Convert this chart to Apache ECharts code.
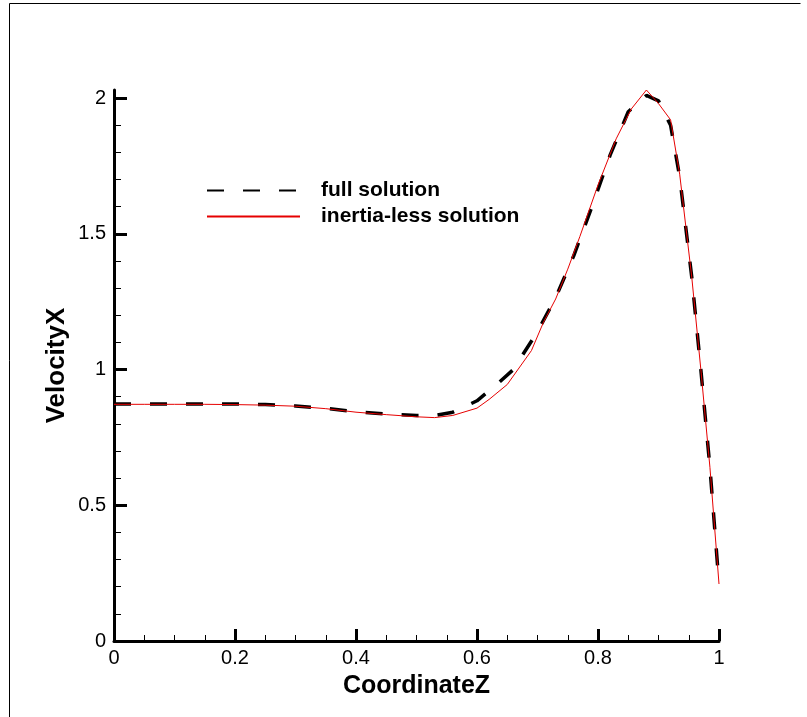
<!DOCTYPE html>
<html>
<head>
<meta charset="utf-8">
<script src="https://cdn.jsdelivr.net/npm/echarts@6/dist/echarts.min.js"></script>
<style>
  html, body { margin: 0; padding: 0; background: #fff; }
  #chart { width: 807px; height: 717px; }
</style>
</head>
<body>
<div id="chart"></div>
<script>
// CoordinateZ sample positions and VelocityX values for both solutions
const zFull = [0, 0.05, 0.1, 0.15, 0.2, 0.25, 0.3, 0.35, 0.4, 0.45, 0.5, 0.53, 0.56, 0.6, 0.63, 0.66, 0.7, 0.73, 0.76, 0.79, 0.82, 0.85, 0.88, 0.9, 0.92, 0.935, 0.955, 0.97, 0.985, 1.0];
const vFull = [0.873, 0.873, 0.873, 0.873, 0.873, 0.871, 0.866, 0.857, 0.845, 0.836, 0.831, 0.831, 0.843, 0.885, 0.94, 1.0, 1.14, 1.265, 1.42, 1.6, 1.79, 1.95, 2.01, 1.99, 1.9, 1.71, 1.34, 1.0, 0.64, 0.21];

const zInertiaLess = [0, 0.05, 0.1, 0.15, 0.2, 0.25, 0.3, 0.35, 0.4, 0.45, 0.5, 0.53, 0.56, 0.6, 0.62, 0.65, 0.69, 0.71, 0.73, 0.75, 0.77, 0.8, 0.83, 0.855, 0.88, 0.9, 0.92, 0.935, 0.955, 0.97, 0.985, 1.0];
const vInertiaLess = [0.872, 0.872, 0.872, 0.872, 0.871, 0.869, 0.865, 0.856, 0.843, 0.834, 0.826, 0.823, 0.831, 0.858, 0.89, 0.945, 1.07, 1.175, 1.26, 1.37, 1.49, 1.68, 1.85, 1.96, 2.03, 1.98, 1.92, 1.72, 1.34, 1.0, 0.64, 0.21];

const xTicks = [0, 0.2, 0.4, 0.6, 0.8, 1];
const yTicks = [0, 0.5, 1, 1.5, 2];

const seriesNames = ['full solution', 'inertia-less solution'];

const pair = (xs, ys) => xs.map((x, i) => [x, ys[i]]);

const FONT = 'Liberation Sans, Arial, sans-serif';

const chart = echarts.init(document.getElementById('chart'), null, { renderer: 'canvas' });

chart.setOption({
  backgroundColor: '#ffffff',
  animation: false,
  grid: { left: 114, right: 88, top: 90, bottom: 76, containLabel: false },
  xAxis: {
    type: 'value',
    min: 0,
    max: 1,
    interval: 0.2,
    name: 'CoordinateZ',
    nameLocation: 'middle',
    nameGap: 33,
    nameMoveOverlap: false,
    nameTextStyle: { fontFamily: FONT, fontWeight: 'bold', fontSize: 25, color: '#000' },
    axisLine: { show: true, lineStyle: { color: '#000', width: 3 } },
    axisTick: { show: true, inside: true, length: 12, lineStyle: { color: '#000', width: 3 }, customValues: xTicks },
    minorTick: { show: true, splitNumber: 4, length: 6, lineStyle: { color: '#000', width: 1 } },
    axisLabel: { customValues: xTicks, fontFamily: FONT, fontSize: 20, color: '#000', margin: 7,
      formatter: v => String(+v.toFixed(2)) },
    splitLine: { show: false }
  },
  yAxis: {
    type: 'value',
    min: 0,
    max: 2.03,
    interval: 0.5,
    name: 'VelocityX',
    nameLocation: 'middle',
    nameGap: 44,
    nameMoveOverlap: false,
    nameRotate: 90,
    nameTextStyle: { fontFamily: FONT, fontWeight: 'bold', fontSize: 26, color: '#000' },
    axisLine: { show: true, lineStyle: { color: '#000', width: 3 } },
    axisTick: { show: true, inside: true, length: 13, lineStyle: { color: '#000', width: 3 }, customValues: yTicks },
    minorTick: { show: true, splitNumber: 5, length: 7, lineStyle: { color: '#000', width: 1 } },
    axisLabel: { customValues: yTicks, fontFamily: FONT, fontSize: 20, color: '#000', margin: 8,
      formatter: v => String(+v.toFixed(2)) },
    splitLine: { show: false }
  },
  legend: {
    show: true,
    orient: 'vertical',
    left: 201,
    top: 175,
    itemWidth: 93,
    itemHeight: 14,
    itemGap: 5,
    itemStyle: { opacity: 0 },
    textStyle: { fontFamily: FONT, fontWeight: 'bold', fontSize: 21, color: '#000', padding: [0, 0, 0, 16] },
    data: seriesNames
  },
  series: [
    {
      name: seriesNames[0],
      type: 'line',
      data: pair(zFull, vFull),
      showSymbol: false,
      symbol: 'none',
      lineStyle: { color: '#000', width: 3.5, type: [17, 19], cap: 'butt' },
      itemStyle: { color: '#000' },
      z: 2
    },
    {
      name: seriesNames[1],
      type: 'line',
      data: pair(zInertiaLess, vInertiaLess),
      showSymbol: false,
      symbol: 'none',
      lineStyle: { color: '#e60000', width: 1 },
      itemStyle: { color: '#e60000' },
      z: 3
    }
  ],
  graphic: [
    {
      // page frame: left and top edges
      type: 'polyline',
      shape: { points: [[9.5, 717], [9.5, 3.5], [800.5, 3.5]] },
      style: { stroke: '#000', lineWidth: 1, fill: null },
      silent: true
    }
  ]
});
</script>
</body>
</html>
